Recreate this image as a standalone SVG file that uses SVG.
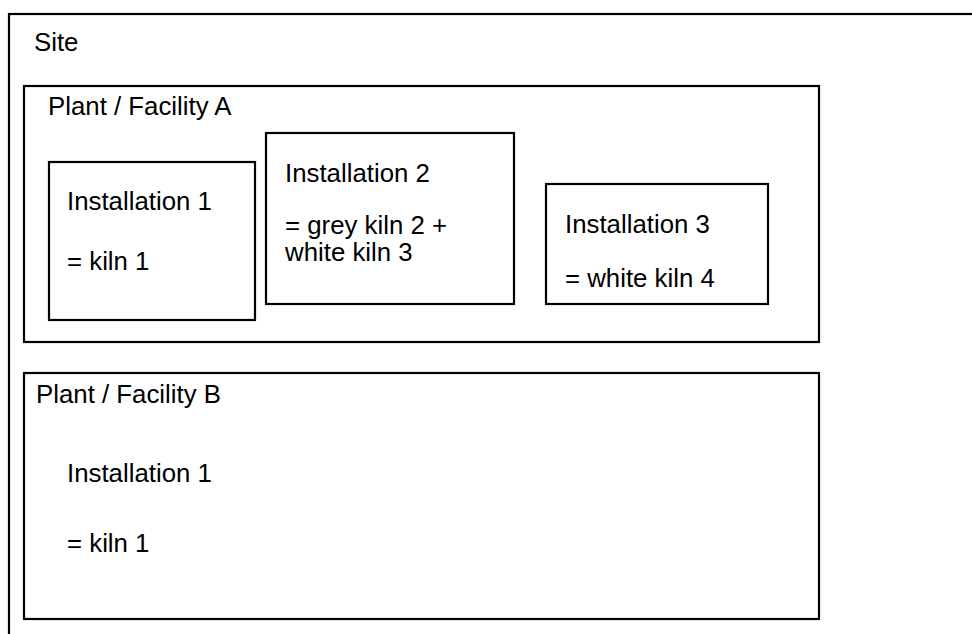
<svg xmlns="http://www.w3.org/2000/svg" width="972" height="634" viewBox="0 0 972 634">
<style>
.box{fill:none;stroke:#000;stroke-width:2.2}
.t{font-family:"Liberation Sans",Arial,sans-serif;font-size:25.8px;fill:#000}
</style>
<rect width="972" height="634" fill="#fff"/>
<g id="site">
<rect class="box" x="9" y="14" width="980" height="640" stroke-width="2.6"/>
<text class="t" x="34" y="51">Site</text>
</g>
<g id="plantA">
<rect class="box" x="24" y="86" width="795" height="256"/>
<text class="t" x="48" y="115">Plant / Facility A</text>
</g>
<g id="instA1">
<rect class="box" x="49" y="162" width="206" height="158"/>
<text class="t" x="67" y="210">Installation 1</text>
<text class="t" x="67" y="270">= kiln 1</text>
</g>
<g id="instA2">
<rect class="box" x="266" y="133" width="248" height="171"/>
<text class="t" x="285" y="182">Installation 2</text>
<text class="t" x="285" y="234">= grey kiln 2 +</text>
<text class="t" x="285" y="261">white kiln 3</text>
</g>
<g id="instA3">
<rect class="box" x="546" y="184" width="222" height="120"/>
<text class="t" x="565" y="233">Installation 3</text>
<text class="t" x="565" y="287">= white kiln 4</text>
</g>
<g id="plantB">
<rect class="box" x="24" y="373" width="795" height="246"/>
<text class="t" x="36" y="403">Plant / Facility B</text>
<text class="t" x="67" y="482">Installation 1</text>
<text class="t" x="67" y="552">= kiln 1</text>
</g>
<g id="connectors"/>
</svg>
